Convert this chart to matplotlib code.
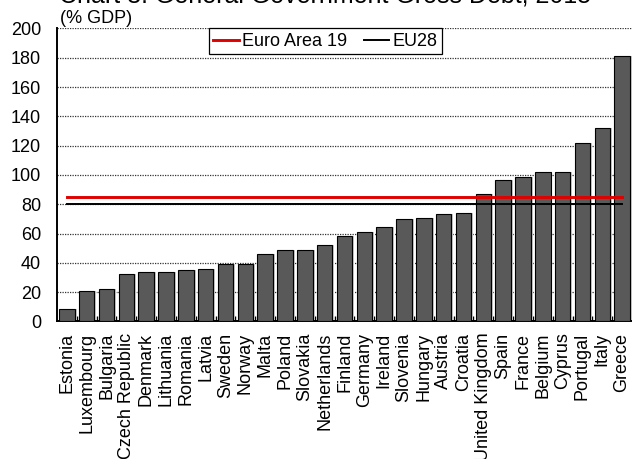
import matplotlib
matplotlib.use("Agg")
import matplotlib.pyplot as plt
import numpy as np

plt.rcParams['font.family'] = ['Liberation Sans', 'DejaVu Sans']

# data (% GDP)
countries = ["Estonia", "Luxembourg", "Bulgaria", "Czech Republic", "Denmark",
             "Lithuania", "Romania", "Latvia", "Sweden", "Norway", "Malta",
             "Poland", "Slovakia", "Netherlands", "Finland", "Germany",
             "Ireland", "Slovenia", "Hungary", "Austria", "Croatia",
             "United Kingdom", "Spain", "France", "Belgium", "Cyprus",
             "Portugal", "Italy", "Greece"]
debt = [8.2, 21.1, 22.5, 32.7, 34.1, 34.1, 35.2, 36.1, 38.9, 39.3, 45.9,
        49.1, 49.0, 52.3, 58.6, 60.9, 64.5, 70.0, 70.7, 73.6, 74.3,
        86.8, 96.8, 98.4, 101.8, 102.3, 121.5, 132.2, 181.0]
euro_area = 85.0
eu28 = 80.0
yticks = [0, 20, 40, 60, 80, 100, 120, 140, 160, 180, 200]

fig = plt.figure(figsize=(6.32, 4.59), dpi=100)
ax = fig.add_axes([0.0902, 0.2996, 0.9098, 0.6384])

x = np.arange(len(countries))
# light shadow behind the bars
ax.bar(x + 0.1, debt, width=0.78, color="#c8c8c8", zorder=2)
ax.bar(x, debt, width=0.78, color="#595959", edgecolor="black", linewidth=0.8, zorder=3)

ax.plot(x, [euro_area] * len(x), color="#e00000", lw=2.1, zorder=4, label="Euro Area 19")
ax.plot(x, [eu28] * len(x), color="black", lw=1.4, zorder=4, label="EU28")

ax.set_xlim(-0.5, len(x) - 0.5)
ax.set_ylim(0, 200)
ax.set_yticks(yticks)
ax.yaxis.grid(True, color="#333333", linestyle=(0, (1, 1)), linewidth=0.9, zorder=1)
ax.set_axisbelow(True)

ax.set_xticks(x)
ax.set_xticklabels(countries, rotation=90, fontsize=13)
ax.set_xticks(x[:-1] + 0.5, minor=True)
ax.tick_params(axis="x", which="major", length=0, pad=8)
ax.tick_params(axis="x", which="minor", direction="in", length=3.6, width=1, color="black")
ax.tick_params(axis="y", length=0, pad=11.5, labelsize=13)

for s in ["top", "right"]:
    ax.spines[s].set_visible(False)
ax.spines["left"].set_linewidth(1.4)
ax.spines["bottom"].set_linewidth(1.4)

leg = ax.legend(loc="upper left", bbox_to_anchor=(0.264, 1.0), ncol=2, fontsize=13,
                frameon=True, fancybox=False, edgecolor="black", framealpha=1,
                borderaxespad=0, handlelength=1.4, handletextpad=0.2,
                columnspacing=0.9, borderpad=0.25)
leg.get_frame().set_linewidth(0.9)

fig.text(0.514, 1 - 3 / 459, "Chart 3: General Government Gross Debt, 2015",
         ha="center", va="baseline", fontsize=18)
fig.text(60 / 632, 1 - 23 / 459, "(% GDP)", ha="left", va="baseline", fontsize=13)

fig.savefig("out.png", dpi=100)
